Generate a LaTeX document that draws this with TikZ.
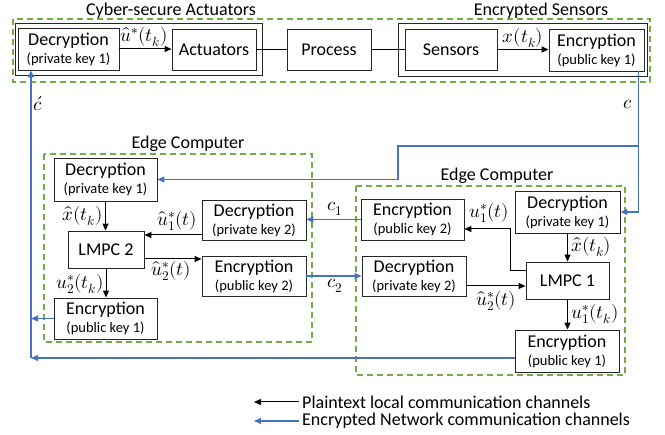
\documentclass[tikz,border=0pt]{standalone}
\usepackage{fontspec}
\usepackage{unicode-math}
\setmainfont{Carlito}
\setmathfont{Latin Modern Math}
\usetikzlibrary{arrows.meta,calc}
\definecolor{netblue}{HTML}{4472C4}
\definecolor{grn}{HTML}{70AD47}
\newcommand{\keyline}[2]{#1\\[-2pt]{\fontsize{14.5}{16}\selectfont (#2)}}
\begin{document}
\begin{tikzpicture}[x=1pt,y=-1pt,font=\fontsize{18}{20}\selectfont,
  blk/.style={draw=black!85,line width=0.9pt,inner sep=0pt,align=center},
  grp/.style={draw=grn,line width=1.2pt,dash pattern=on 6pt off 4pt},
  frame/.style={draw=black!85,line width=0.9pt},
  plain/.style={draw=black,line width=1pt,-{Triangle[length=7pt,width=6pt]}},
  link/.style={draw=black,line width=1pt},
  net/.style={draw=netblue,line width=1.3pt,-{Triangle[length=7pt,width=6pt]}},
  lbl/.style={inner sep=0pt,font=\fontsize{19}{21}\selectfont}]
\useasboundingbox (0,0) rectangle (665,435);

% ---- top group
\draw[grp] (13,19) rectangle (650,82);
\draw[frame] (15,23) rectangle (262,75);
\draw[frame] (398,23) rectangle (647,76);
\node (tA) at (171,11) {Cyber-secure Actuators};
\node (tS) at (541,11) {Encrypted Sensors};

\node[blk,minimum width=101pt,minimum height=42pt] (decA) at (68.5,49) {\keyline{Decryption}{private key 1}};
\node[blk,minimum width=84pt,minimum height=41pt] (act) at (214,49.5) {Actuators};
\node[blk,minimum width=84pt,minimum height=41pt] (proc) at (329,49.5) {Process};
\node[blk,minimum width=92pt,minimum height=41pt] (sens) at (451,49.5) {Sensors};
\node[blk,minimum width=95pt,minimum height=42pt] (encS) at (596.5,50) {\keyline{Encryption}{public key 1}};

\draw[plain] (decA.east) -- (decA.east -| act.west);
\draw[link] (act.east) -- (act.east -| proc.west);
\draw[link] (proc.east) -- (proc.east -| sens.west);
\draw[plain] (sens.east) -- (sens.east -| encS.west);
\node[lbl] (lu) at (144,37) {$\hat{u}^*(t_k)$};
\node[lbl] (lx) at (523,38) {$x(t_k)$};

% ---- left edge computer
\draw[grp] (44,154) rectangle (312,342);
\node (tL) at (188,144) {Edge Computer};
\node[blk,minimum width=103pt,minimum height=43pt] (decL1) at (105.5,179.5) {\keyline{Decryption}{private key 1}};
\node[blk,minimum width=76pt,minimum height=37pt] (lmpc2) at (106,249.5) {LMPC 2};
\node[blk,minimum width=104pt,minimum height=40pt] (decL2) at (254,220) {\keyline{Decryption}{private key 2}};
\node[blk,minimum width=104pt,minimum height=40pt] (encL2) at (254,276) {\keyline{Encryption}{public key 2}};
\node[blk,minimum width=103pt,minimum height=41pt] (encL1) at (105.5,318.5) {\keyline{Encryption}{public key 1}};

\draw[plain] (decL1.south) -- (decL1.south |- lmpc2.north);
\draw[plain] (lmpc2.south) -- (lmpc2.south |- encL1.north);
\coordinate (d1) at ([yshift=-15pt]decL2.west);
\draw[plain] (d1) -- (d1 -| lmpc2.east);
\coordinate (e1) at ([yshift=17pt]encL2.west);
\draw[plain] (e1 -| lmpc2.east) -- (e1);
\node[lbl,anchor=east] (lxl) at (103,216) {$\hat{x}(t_k)$};
\node[lbl] (lu1l) at (177,221) {$\hat{u}_1^*(t)$};
\node[lbl] (lu2l) at (171,271) {$\hat{u}_2^*(t)$};
\node[lbl,anchor=east] (lu2k) at (104,284) {$u_2^*(t_k)$};

% ---- right edge computer
\draw[grp] (356,186) rectangle (625,375);
\node (tR) at (497,176) {Edge Computer};
\node[blk,minimum width=105pt,minimum height=42pt] (decR1) at (567.5,212) {\keyline{Decryption}{private key 1}};
\node[blk,minimum width=103pt,minimum height=41pt] (encR2) at (412.5,219.5) {\keyline{Encryption}{public key 2}};
\node[blk,minimum width=104pt,minimum height=40pt] (decR2) at (414,276) {\keyline{Decryption}{private key 2}};
\node[blk,minimum width=83pt,minimum height=37pt] (lmpc1) at (567.5,280.5) {LMPC 1};
\node[blk,minimum width=104pt,minimum height=42pt] (encR1) at (567,351) {\keyline{Encryption}{public key 1}};

\draw[plain] (decR1.south) -- (decR1.south |- lmpc1.north);
\draw[plain] (lmpc1.south) -- (lmpc1.south |- encR1.north);
\coordinate (l1) at ([yshift=9.5pt]lmpc1.west);
\coordinate (e2) at ([yshift=-9.5pt]encR2.east);
\coordinate (mx) at (510,250);
\draw[plain] (l1) -- (l1 -| mx) |- (e2);
\coordinate (d2) at ([yshift=-10pt]decR2.east);
\draw[plain] (d2) -- (d2 -| lmpc1.west);
\node[lbl,anchor=west] (lxr) at (571,247) {$\hat{x}(t_k)$};
\node[lbl,anchor=east] (lu1r) at (509,213) {$u_1^*(t)$};
\node[lbl] (lu2r) at (496,301) {$\hat{u}_2^*(t)$};
\node[lbl,anchor=west] (lu1k) at (571,314) {$u_1^*(t_k)$};

% ---- network links
\draw[net] (encR2.west) -- (encR2.west -| decL2.east);
\draw[net] (encL2.east) -- (encL2.east -| decR2.west);
\node[lbl] (c1) at (335,209) {$c_1$};
\node[lbl] (c2) at (335,286) {$c_2$};

\coordinate (sdown) at ([xshift=-6pt]encS.south east);
\draw[net] (sdown) |- (decR1.east);
\coordinate (br) at (sdown |- 0,146);
\coordinate (bend) at (398,146);
\draw[net] (br) -- (bend) |- (decL1.east);
\node[lbl] (cc) at (628,104) {$c$};

\coordinate (bl) at (31,358);
\coordinate (q) at ([yshift=-7pt]encR1.west);
\draw[net] (q) -- (q -| bl);
\draw[net] (encL1.west) -- (encL1.west -| bl);
\draw[net] (bl) -- (bl |- decA.south);
\node[lbl] (cp) at (38,104) {$\acute{c}$};

% ---- legend
\node[anchor=west,inner sep=3pt] (lg1) at (299,402) {Plaintext local communication channels};
\node[anchor=west,inner sep=3pt] (lg2) at (299,421) {Encrypted Network communication channels};
\coordinate (lg1a) at (254,402);
\coordinate (lg2a) at (254,421);
\draw[plain] (lg1.west) -- (lg1a);
\draw[net] (lg2.west) -- (lg2a);
\end{tikzpicture}
\end{document}
